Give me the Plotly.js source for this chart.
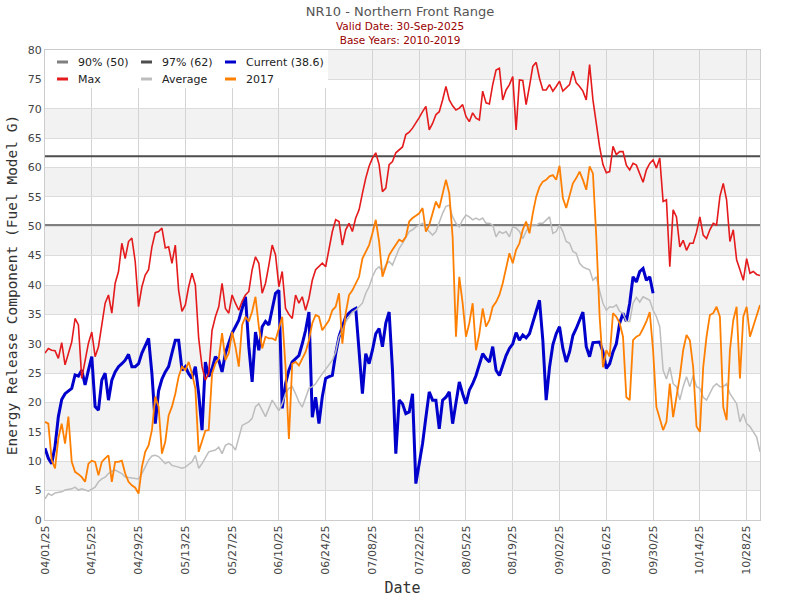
<!DOCTYPE html>
<html>
<head>
<meta charset="utf-8">
<script src="https://cdn.plot.ly/plotly-3.0.1.min.js"></script>
<style>html,body{margin:0;padding:0;background:#fff;}#chart{width:800px;height:600px;}</style>
</head>
<body>
<div id="chart"></div>
<script>
// ---------- DATA ----------
const startDate = '2025-04-01';
const endDate = '2025-11-01';
const seriesNames = ['90% (50)', '97% (62)', 'Current (38.6)', 'Max', 'Average', '2017'];
const thresholdValues = [50.2, 61.9]; // 90th and 97th percentile
const subtitleLines = ['Valid Date: 30-Sep-2025', 'Base Years: 2010-2019'];

// [day offset from startDate, ERC value]
const currentSeries = [[0,12.2],[1,10.5],[2,9.6],[3,12.5],[4,17.6],[5,20.5],[6,21.5],[7,22],[8,22.4],[9,24.7],[10,24.5],[11,25.5],[12,23],[13,25.5],[14,27.8],[15,19.3],[16,18.7],[17,23.8],[18,25],[19,20.4],[20,23.8],[21,25.2],[22,26.1],[23,26.6],[24,27.2],[25,28.2],[26,26.1],[27,26.1],[28,26.6],[29,28.4],[30,29.8],[31,30.9],[32,24.9],[33,16.4],[34,22],[35,24],[36,25.2],[37,26.1],[38,28.4],[39,30.6],[40,30.6],[41,25.5],[42,26.1],[43,24.9],[44,24.1],[45,26.1],[46,21.5],[47,15.3],[48,26.9],[49,24.4],[50,25.8],[51,27.8],[52,27.2],[53,25.2],[54,28.4],[55,30.1],[56,31.8],[57,32.9],[58,34],[59,36],[60,38],[61,29.5],[62,23.5],[63,32],[64,28.9],[65,32.9],[66,33.8],[67,33.2],[68,36],[69,38.6],[70,39.1],[71,19],[72,23.2],[73,25.5],[74,26.9],[75,27.5],[76,28],[77,30],[78,32.3],[79,35.4],[80,17.5],[81,20.9],[82,16.4],[83,21],[84,24.1],[85,24.4],[86,24.6],[87,28.3],[88,31.2],[89,32.9],[90,34.6],[91,35.2],[92,35.7],[93,36],[94,28.3],[95,21.5],[96,28.3],[97,26.6],[98,28.9],[99,31.7],[100,32.6],[101,29.5],[102,33.5],[103,35.4],[104,25.5],[105,11.3],[106,20.4],[107,19.8],[108,18.1],[109,18.4],[110,21.5],[111,6.2],[112,9.6],[113,13],[114,17.5],[115,21.8],[116,20.4],[117,20.4],[118,15.5],[119,20.4],[120,20.9],[121,21.8],[122,16.4],[123,19.8],[124,23.5],[125,21.5],[126,19.8],[127,22.1],[128,23.2],[129,24.6],[130,26.6],[131,28.3],[132,27.5],[133,26.9],[134,29.5],[135,25.5],[136,24.6],[137,26.5],[138,28],[139,29.2],[140,30],[141,31.9],[142,30.6],[143,31.5],[144,31],[145,31.7],[146,33.5],[147,35.7],[148,37.4],[149,30.6],[150,20.4],[151,26],[152,29.8],[153,31.7],[154,32.9],[155,29.2],[156,26.9],[157,28.6],[158,31.4],[159,32.6],[160,34],[161,35.4],[162,29.5],[163,27.8],[164,30.2],[165,30.3],[166,30.3],[167,28.6],[168,25.8],[169,26.6],[170,28.6],[171,30],[172,33.5],[173,35.2],[174,33.8],[175,36.9],[176,41.4],[177,40.5],[178,42.3],[179,42.8],[180,40.8],[181,41.4],[182,38.6]];

const maxSeries = [[0,28.4],[1,29.2],[2,28.9],[3,28.8],[4,27.5],[5,30.2],[6,26.4],[7,28.4],[8,30.3],[9,34.3],[10,33.2],[11,24.1],[12,27.2],[13,30.1],[14,32],[15,27.8],[16,29.5],[17,33.5],[18,36.9],[19,38.3],[20,35.2],[21,40.3],[22,42.3],[23,47.1],[24,44.5],[25,47.4],[26,48],[27,44],[28,36.3],[29,39.7],[30,41.7],[31,42.6],[32,46.5],[33,48.9],[34,49.1],[35,49.7],[36,46.3],[37,46.5],[38,43.7],[39,46.8],[40,39.1],[41,35.5],[42,36.6],[43,39.7],[44,42],[45,40],[46,30.9],[47,26.1],[48,23.8],[49,24.9],[50,32.3],[51,34.6],[52,36.3],[53,40.3],[54,36],[55,35.2],[56,38.3],[57,36.9],[58,35.7],[59,37.2],[60,38.3],[61,38.9],[62,42.6],[63,44.8],[64,43.7],[65,38.6],[66,40.3],[67,43.4],[68,46.8],[69,45.1],[70,39.7],[71,42.3],[72,36],[73,35],[74,34.3],[75,38.3],[76,36.9],[77,38],[78,35.7],[79,37.7],[80,40.8],[81,42.6],[82,43.2],[83,43.7],[84,43.1],[85,46.2],[86,49.1],[87,51.1],[88,50.8],[89,46.8],[90,49.4],[91,50.5],[92,49.1],[93,51.4],[94,52.8],[95,55.6],[96,58.2],[97,60.2],[98,61.6],[99,62.5],[100,60.5],[101,55.9],[102,56.5],[103,60.5],[104,61],[105,62.5],[106,63],[107,63.5],[108,65.6],[109,66],[110,66.7],[111,67.5],[112,68.5],[113,69.5],[114,70.4],[115,66.4],[116,67.5],[117,69],[118,69.5],[119,71.5],[120,73.8],[121,71.5],[122,70.5],[123,69.8],[124,70.1],[125,70.7],[126,68.7],[127,67.8],[128,69.3],[129,68.4],[130,68.1],[131,73],[132,71],[133,70.8],[134,74.1],[135,76.6],[136,76.9],[137,71.5],[138,73.2],[139,74.1],[140,75.5],[141,66.4],[142,74.9],[143,74.8],[144,70.7],[145,73.8],[146,77.2],[147,77.9],[148,75.2],[149,73.2],[150,73.2],[151,74.1],[152,73],[153,73.8],[154,74.7],[155,73],[156,73.6],[157,74.1],[158,76.4],[159,74.4],[160,73.8],[161,73],[162,71.5],[163,77.5],[164,71.5],[165,67.5],[166,63.5],[167,60.5],[168,59.1],[169,59.3],[170,63.6],[171,62.2],[172,62.7],[173,62.7],[174,60.4],[175,59.6],[176,60.7],[177,60.4],[178,59.1],[179,57.5],[180,59.6],[181,60.7],[182,61.3],[183,59.9],[184,61.6],[185,54.2],[186,54.5],[187,43.1],[188,52.8],[189,51.6],[190,46.5],[191,47.6],[192,45.9],[193,47.1],[194,47.1],[195,49],[196,51.6],[197,48.5],[198,47.9],[199,49.4],[200,50.5],[201,50.2],[202,55.1],[203,57.3],[204,54.5],[205,47.4],[206,49.4],[207,44.3],[208,42.6],[209,40.8],[210,44.5],[211,42],[212,42.3],[213,41.8],[214,41.6]];

const averageSeries = [[0,3.6],[1,4.5],[2,4.2],[3,4.6],[5,4.8],[6,5.1],[8,5.3],[9,5.6],[10,5.1],[11,5.3],[12,5.1],[13,4.9],[15,5.6],[16,6.5],[17,7],[18,7.3],[19,7.9],[20,8.3],[21,8.5],[23,7.9],[24,7.3],[25,7.2],[27,7],[28,7],[29,7.9],[30,9],[31,10.2],[32,10.9],[33,11],[34,10.8],[35,10.2],[36,9.6],[37,9.9],[38,9.3],[40,9],[41,8.8],[42,9],[44,9.9],[45,11],[46,8.8],[47,9.6],[48,10.5],[49,11.6],[51,11.9],[52,12.4],[53,11.3],[54,12.7],[55,13],[56,12.7],[57,11.9],[58,14.1],[59,16.1],[60,16.4],[61,16.7],[62,17.3],[63,19.3],[64,19.8],[65,18.7],[66,17.6],[67,19],[68,20.4],[69,19.5],[70,18.6],[71,19.8],[72,21.5],[73,22.4],[74,22.7],[75,21.5],[76,20.1],[77,19.2],[78,20.9],[79,22.4],[80,22.7],[81,23.2],[82,24.1],[83,24.9],[84,25.5],[85,26.3],[86,27.2],[87,28.6],[88,31.2],[89,32.3],[90,33.7],[91,34.6],[92,35.4],[93,35.7],[94,36.3],[95,36.9],[96,38.6],[97,39.7],[98,41.4],[99,42.6],[100,43.1],[101,42.3],[102,43.4],[103,44],[104,43.4],[105,44.8],[106,46.2],[107,47.1],[108,48.2],[109,49.1],[110,49.4],[111,49.9],[112,50.2],[113,50.5],[114,49.7],[115,49.1],[116,48.5],[117,49.1],[118,50.8],[119,52.2],[120,53.4],[121,53.6],[122,51.6],[123,50.5],[124,49.9],[125,51.1],[126,51.9],[127,51.6],[128,51.1],[129,51.4],[130,51.1],[131,51.4],[132,50.5],[133,50.5],[134,50.2],[135,48.2],[136,49.1],[137,48.8],[138,49.1],[139,48.2],[140,49.9],[141,49.7],[142,49.1],[143,47.9],[144,49.1],[145,50.2],[147,50.2],[148,50.5],[149,50.5],[150,51.1],[151,51.6],[152,48.8],[153,49.1],[154,50.2],[155,49.1],[156,47.4],[157,47.1],[158,45.7],[159,45.4],[160,43.7],[161,43.1],[162,42.8],[163,42.6],[164,40.8],[165,41.4],[166,39],[167,36.9],[168,35.7],[169,36.3],[170,36.2],[171,36.6],[172,35.5],[173,35.2],[174,33.8],[175,33.8],[176,36.9],[177,37.9],[178,37.1],[179,38],[180,37.7],[181,37.4],[182,35.7],[183,34.6],[184,32.9],[185,25.5],[186,24],[187,26],[188,23.2],[189,22.7],[190,20.4],[191,22.7],[192,24.4],[193,22.7],[194,24.6],[195,22.7],[196,22.4],[197,20.9],[198,20.4],[199,21.5],[200,22.7],[201,23.2],[202,22.7],[203,22.7],[204,23.2],[205,21.5],[206,20.6],[207,19.8],[208,16.7],[209,18.1],[210,16.4],[211,15.9],[212,15],[213,14.1],[214,11.6]];

const year2017Series = [[0,16.7],[1,16.4],[2,10.2],[3,8.8],[4,13.9],[5,16.4],[6,13],[7,17.6],[8,9.9],[9,8.2],[10,7.8],[11,7.3],[12,6.5],[13,9.6],[14,10.1],[15,9.9],[16,7.6],[17,9.9],[18,10.5],[19,11],[20,6.5],[21,9.9],[22,9.9],[23,10.1],[24,7.9],[25,6.5],[26,5.9],[27,5.5],[28,4.5],[29,9],[30,11.6],[31,12.7],[32,15.3],[33,21],[34,19.3],[35,11.3],[36,13.3],[37,17.8],[38,19.3],[39,21.5],[40,24.4],[41,26.1],[42,25.5],[43,26.9],[44,24.9],[45,22.4],[46,11.6],[47,13.6],[48,15.2],[49,15.3],[50,24.9],[51,26.6],[52,27.5],[53,31.8],[54,27.2],[55,28.4],[56,32],[57,29.5],[58,26.1],[59,33.2],[60,34.6],[61,33.8],[62,35.5],[63,38],[64,32.9],[65,29.2],[66,31.2],[67,30.9],[68,30.9],[69,30.6],[70,32.5],[71,34.6],[72,26],[73,13.8],[74,26.6],[75,26.9],[76,26.3],[77,27.5],[78,28.6],[79,30.6],[80,33.5],[81,34.9],[82,34.6],[83,32.3],[84,33.2],[85,34],[86,35.7],[87,36.3],[88,38.6],[89,30],[90,35.2],[91,38.3],[92,39.1],[93,40.3],[94,41.4],[95,44.5],[96,45.7],[97,46.8],[98,48.8],[99,51.1],[100,47.4],[101,41.4],[102,43.1],[103,45.1],[104,46],[105,46.8],[106,47.7],[107,47.4],[108,48.2],[109,50.8],[110,51.4],[111,51.8],[112,52.2],[113,53.1],[114,49.1],[115,50.2],[116,52.2],[117,54.2],[118,53.1],[119,55.6],[120,57.9],[121,55.6],[122,48.2],[123,31.2],[124,41.4],[125,36.9],[126,31.2],[127,33.5],[128,36.9],[129,28.9],[130,31.7],[131,36],[132,32.9],[133,34],[134,36.3],[135,37.1],[136,38.3],[137,40.3],[138,43.1],[139,45.4],[140,43.7],[141,46],[142,47.1],[143,49.4],[144,50.8],[145,48.8],[146,52.2],[147,55],[148,56.7],[149,57.6],[150,57.9],[151,58.5],[152,58.7],[153,57.9],[154,60.3],[155,54.8],[156,53.1],[157,55],[158,57.3],[159,58.2],[160,59.3],[161,57.9],[162,56.2],[163,60.2],[164,59],[165,48.2],[166,34.6],[167,26],[168,28.9],[169,27.8],[170,35.2],[171,34.6],[172,33.5],[173,31.2],[174,20.9],[175,20.4],[176,30.6],[177,31.2],[178,31.5],[179,32.6],[180,33.8],[181,35.4],[182,28.9],[183,19.2],[184,17],[185,15.3],[186,16.7],[187,23.2],[188,17.5],[189,20.9],[190,24.4],[191,28.9],[192,31.5],[193,30.6],[194,26],[195,15.9],[196,15],[197,26],[198,31.2],[199,34.9],[200,35.2],[201,36.3],[202,34.6],[203,19.2],[204,17],[205,28.9],[206,34],[207,36.3],[208,24.1],[209,34.6],[210,36.3],[211,31.2],[212,32.9],[213,34.6],[214,36.6]];

// ---------- STYLE ----------
const colors = ['#7f7f7f', '#4d4d4d', '#0000cc', '#e41a1c', '#bdbdbd', '#ff7f00'];
const widths = [2, 2, 3, 1.6, 1.5, 1.8];

const START_MS = Date.parse(startDate + 'T00:00:00Z');
function dayToDate(d) { return new Date(START_MS + d * 86400000).toISOString().slice(0, 10); }
function toTrace(series, i) {
  return {
    type: 'scatter', mode: 'lines', name: seriesNames[i],
    x: series.map(p => dayToDate(p[0])), y: series.map(p => p[1]),
    line: { color: colors[i], width: widths[i] }, showlegend: false, hoverinfo: 'x+y+name'
  };
}
const traces = [];
thresholdValues.forEach((v, i) => traces.push({
  type: 'scatter', mode: 'lines', name: seriesNames[i],
  x: [startDate, endDate], y: [v, v],
  line: { color: colors[i], width: widths[i] }, showlegend: false
}));
traces.push(toTrace(currentSeries, 2));
traces.push(toTrace(maxSeries, 3));
traces.push(toTrace(averageSeries, 4));
traces.push(toTrace(year2017Series, 5));

// ---------- LAYOUT ----------
const M = { l: 45, r: 40, t: 50, b: 80 };
const W = 800, H = 600;
const pw = W - M.l - M.r, ph = H - M.t - M.b;
const px2x = px => (px - M.l) / pw;
const py2y = py => (H - M.b - py) / ph;

const shapes = [];
// alternating shaded bands
for (let y0 = 5; y0 < 80; y0 += 10) {
  shapes.push({ type: 'rect', xref: 'paper', yref: 'y', x0: 0, x1: 1, y0: y0, y1: y0 + 5,
    fillcolor: '#f2f2f2', line: { width: 0 }, layer: 'below' });
}
// legend box
shapes.push({ type: 'rect', xref: 'paper', yref: 'paper', x0: 0, x1: px2x(328), y0: py2y(88), y1: 1,
  fillcolor: '#ffffff', line: { width: 0 }, layer: 'above' });

const annotations = [
  { text: subtitleLines.join('<br>'), xref: 'paper', yref: 'paper', x: px2x(400), y: py2y(32.5),
    showarrow: false, xanchor: 'center', yanchor: 'middle', align: 'center',
    font: { family: 'DejaVu Sans', size: 10.5, color: '#990000' } }
];
// custom legend, 3 columns x 2 rows
const legCols = [57, 141, 225], legRows = [62, 79];
seriesNames.forEach((name, i) => {
  const cx = legCols[i % 3], cy = legRows[Math.floor(i / 3)];
  shapes.push({ type: 'line', xref: 'paper', yref: 'paper', x0: px2x(cx), x1: px2x(cx + 11),
    y0: py2y(cy), y1: py2y(cy), line: { color: colors[i], width: 3 }, layer: 'above' });
  annotations.push({ text: name, xref: 'paper', yref: 'paper', x: px2x(cx + 19), y: py2y(cy),
    showarrow: false, xanchor: 'left', yanchor: 'middle',
    font: { family: 'DejaVu Sans', size: 11, color: '#222' } });
});

const layout = {
  width: W, height: H, margin: M,
  paper_bgcolor: '#ffffff', plot_bgcolor: '#ffffff',
  font: { family: 'DejaVu Sans', size: 11, color: '#444' },
  title: { text: 'NR10 - Northern Front Range', x: 0.5, xref: 'container', y: 1 - 11 / H, yref: 'container',
    xanchor: 'center', yanchor: 'middle', font: { family: 'DejaVu Sans', size: 13, color: '#555' } },
  showlegend: false,
  xaxis: {
    type: 'date', range: [startDate, endDate], tick0: startDate, dtick: 14 * 86400000,
    tickformat: '%m/%d/%y', tickangle: -90, ticks: '', showgrid: true, gridcolor: '#d3d3d3', gridwidth: 1,
    showline: true, linecolor: '#cccccc', mirror: true, zeroline: false,
    tickfont: { family: 'DejaVu Sans', size: 11, color: '#444' },
    title: { text: 'Date', font: { family: 'DejaVu Sans Mono', size: 15, color: '#333' }, standoff: 8 }
  },
  yaxis: {
    range: [0, 80], dtick: 5, tick0: 0, ticks: '', showgrid: true, gridcolor: '#dcdcdc', gridwidth: 1,
    showline: true, linecolor: '#cccccc', mirror: true, zeroline: false,
    tickfont: { family: 'DejaVu Sans', size: 11, color: '#444' },
    title: { text: 'Energy Release Component (Fuel Model G)', font: { family: 'DejaVu Sans Mono', size: 14.5, color: '#333' }, standoff: 6 }
  },
  shapes: shapes,
  annotations: annotations
};

Plotly.newPlot('chart', traces, layout, { staticPlot: true, displayModeBar: false });
</script>
</body>
</html>
